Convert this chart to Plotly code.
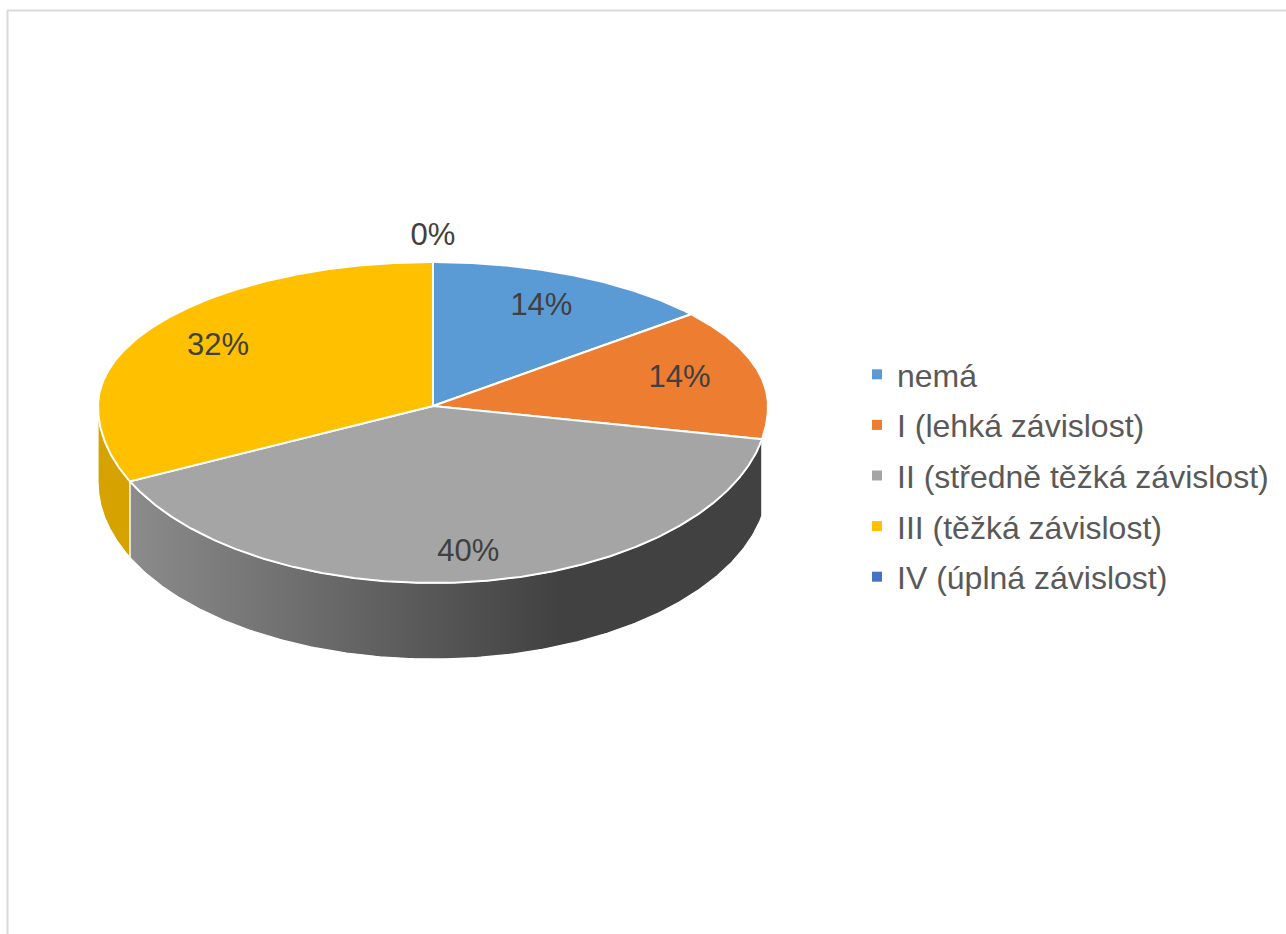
import numpy as np
import plotly.graph_objects as go

# ---- data ----
categories = ["nemá", "I (lehká závislost)", "II (středně těžká závislost)",
              "III (těžká závislost)", "IV (úplná závislost)"]
percent = [14, 14, 40, 32, 0]
top_colors = ["#5B9BD5", "#ED7D31", "#A5A5A5", "#FFC000", "#4472C4"]
side_colors = ["#4a82b8", "#c5621f", "#8c8c8c", "#d6a200", "#36609f"]

# ---- pseudo-3D geometry (pixel-like coordinates) ----
W, H = 1286, 934
CX, CY = 433, 406
RX = 335
RY_FAR = 144
RY_NEAR = 177
DEPTH = 76
SIDE_FROM, SIDE_TO = 101, 270


def ell(theta_deg):
    t = np.radians(theta_deg)
    x = CX + RX * np.sin(t)
    c = np.cos(t)
    ry = np.where(c > 0, RY_FAR, RY_NEAR)
    y = CY - ry * c
    return x, y


fig = go.Figure()

total = sum(percent)
starts = []
acc = 0.0
for v in percent:
    starts.append(acc / total * 360)
    acc += v
ends = [s + v / total * 360 for s, v in zip(starts, percent)]

# side walls (visible front part)
for i, (a, b) in enumerate(zip(starts, ends)):
    lo, hi = max(a, SIDE_FROM), min(b, SIDE_TO)
    if hi <= lo:
        continue
    th = np.linspace(lo, hi, 200)
    x, y = ell(th)
    xs = np.concatenate([x, x[::-1], x[:1]])
    ys = np.concatenate([y, (y + DEPTH)[::-1], y[:1]])
    kw = dict(fillcolor=side_colors[i])
    if i == 2:
        kw = dict(fillgradient=dict(type="horizontal", start=120, stop=560,
                                    colorscale=[[0, "#8d8d8d"], [1, "#414141"]]))
    fig.add_trace(go.Scatter(x=xs, y=ys, mode="lines", fill="toself",
                             line=dict(color="white", width=1.2),
                             hoverinfo="skip", showlegend=False, **kw))

# top faces
for i, (a, b) in enumerate(zip(starts, ends)):
    th = np.linspace(a, b, max(2, int((b - a) * 3)))
    x, y = ell(th)
    xs = np.concatenate([[CX], x, [CX]])
    ys = np.concatenate([[CY], y, [CY]])
    fig.add_trace(go.Scatter(x=xs, y=ys, mode="lines", fill="toself",
                             fillcolor=top_colors[i],
                             line=dict(color="white", width=2),
                             hoverinfo="skip", showlegend=False))

# data labels
lab_x, lab_y, lab_t = [], [], []
for i, (a, b) in enumerate(zip(starts, ends)):
    mid = (a + b) / 2
    t = np.radians(mid)
    c = np.cos(t)
    if percent[i] == 0:
        r = 1.17
    elif c > 0:
        r = 0.76
    else:
        r = 0.84
    ry = RY_FAR if c > 0 else RY_NEAR
    lab_x.append(CX + r * RX * np.sin(t))
    lab_y.append(CY - r * ry * c)
    lab_t.append(f"{percent[i]}%")
fig.add_trace(go.Scatter(x=lab_x, y=lab_y, mode="text", text=lab_t,
                         textfont=dict(family="Liberation Sans, Arial", size=31, color="#404040"),
                         hoverinfo="skip", showlegend=False))

# legend entries
for i, name in enumerate(categories):
    fig.add_trace(go.Scatter(x=[None], y=[None], mode="markers", name=name,
                             legendgroup=str(i),
                             marker=dict(symbol="square", size=10, color=top_colors[i])))

fig.update_layout(
    width=W, height=H,
    margin=dict(l=0, r=0, t=0, b=0),
    paper_bgcolor="white", plot_bgcolor="white",
    xaxis=dict(range=[0, W], visible=False, fixedrange=True),
    yaxis=dict(range=[H, 0], visible=False, fixedrange=True),
    showlegend=True,
    legend=dict(x=857 / W, y=1 - 347 / H, xanchor="left", yanchor="top",
                font=dict(family="Liberation Sans, Arial", size=32, color="#595959"),
                tracegroupgap=6, itemwidth=30, bgcolor="rgba(0,0,0,0)"),
    shapes=[
        dict(type="line", xref="paper", yref="paper", x0=7.5 / W, x1=7.5 / W,
             y0=1 - 10 / H, y1=0, line=dict(color="#d9d9d9", width=2)),
        dict(type="line", xref="paper", yref="paper", x0=7 / W, x1=1,
             y0=1 - 10.5 / H, y1=1 - 10.5 / H, line=dict(color="#d9d9d9", width=2)),
    ],
)

fig.write_html("out.html", config={"displayModeBar": False},
               post_script="document.body.style.margin='0';")
